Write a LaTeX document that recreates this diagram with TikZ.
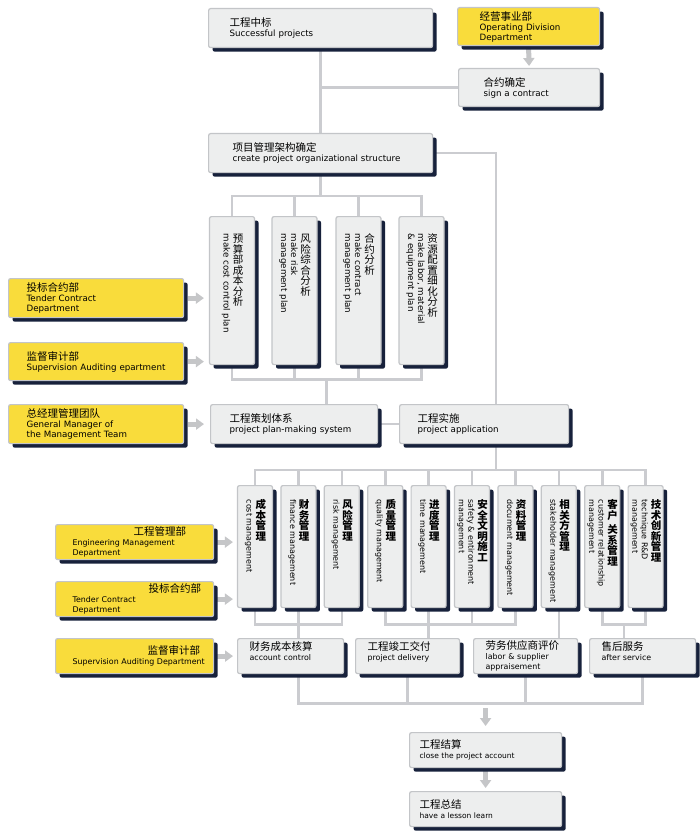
\documentclass[tikz,border=0pt]{standalone}
\usepackage{fontspec}
\usepackage{graphicx}
\setmainfont{DejaVu Sans}
\newfontfamily\cjk{Noto Sans CJK SC}
\usetikzlibrary{positioning,calc,shadows,backgrounds,arrows.meta}

\definecolor{boxfill}{HTML}{EDEEEE}
\definecolor{edge}{HTML}{C3C5C8}
\definecolor{yel}{HTML}{F9DC3B}
\definecolor{shd}{HTML}{17213B}
\definecolor{linkc}{HTML}{CBCCD0}
\definecolor{arrc}{HTML}{C5C6C8}

\newcommand\etop{\fontsize{8.7}{10}\selectfont}
\newcommand\elow{\fontsize{7.9}{10}\selectfont}
\newcommand\cn[1]{{\cjk\fontsize{10.5}{10}\selectfont #1}}
% Chinese set upright, one character per line
\newcommand\cvfont{}
\def\cvbar{|}
\makeatletter
\newcommand\cv[1]{\vtop{\cjk\cvfont\fontsize{10.5}{10.5}\selectfont
  \@tfor\ch:=#1\do{\ifx\ch\cvbar\vskip4pt\else\hbox to 11pt{\hss\ch\hss}\fi}}}
\makeatother
\newcommand\vlab[2]{\raisebox{9pt}{\rotatebox{-90}{\begin{tabular}{@{}l@{}}#1\end{tabular}}}\hspace{2pt}\cv{#2}}

\begin{document}
\begin{tikzpicture}[x=1pt, y=-1pt,
  box/.style={draw=edge, fill=boxfill, line width=1.2pt, rounded corners=2pt,
    drop shadow={shadow xshift=4pt, shadow yshift=-4pt, fill=shd, opacity=1},
    inner ysep=0pt, font=\etop},
  hbx/.style={box, anchor=north west, align=left},
  vbox/.style={box, anchor=north, inner xsep=0pt, minimum width=45pt, text height=26pt, text depth=122pt},
  wbox/.style={vbox, minimum width=35pt, text height=23pt, text depth=99pt,
    font={\fontsize{8}{9.5}\selectfont\def\cvfont{\bfseries}}},
  link/.style={draw=linkc, line width=2.6pt, line cap=rect},
  garrow/.style={draw=arrc, line width=5pt, -{Triangle[length=8pt, width=11pt]}}]
  \useasboundingbox (0,0) rectangle (700,840);

  % Tender won, contract, structure
  \node[hbx, minimum height=39pt, inner xsep=21pt, text width=182pt] (succ) at (208,8) {\cn{工程中标}\\Successful projects};
  \node[hbx, fill=yel, minimum height=38pt, inner xsep=22pt, text width=98pt] (opdiv) at (457,7) {\cn{经营事业部}\\Operating Division\\Department};
  \node[hbx, minimum height=38pt, inner xsep=25pt, text width=91pt] (contract) at (458,68) {\cn{合约确定}\\sign a contract};
  \node[hbx, minimum height=39pt, inner xsep=24pt, text width=176pt] (struct) at (208,133) {\cn{项目管理架构确定}\\create project organizational structure};

  % Analysis
  \node[vbox] (r1a) at (232,216) {\vlab{make cost control plan}{预算部成本分析}};
  \node[vbox] (r1b) at (294.5,216) {\vlab{make risk\\management plan}{风险综合分析}};
  \node[vbox] (r1c) at (358.5,216) {\vlab{make contract\\management plan}{合约分析}};
  \node[vbox] (r1d) at (421.5,216) {\vlab{make labor, material\\\& equipment plan}{资源配置细化分析}};

  % Departments (upper)
  \node[hbx, fill=yel, minimum height=39pt, inner xsep=18pt, text width=139pt] (tender1) at (8,278) {\cn{投标合约部}\\Tender Contract\\Department};
  \node[hbx, fill=yel, minimum height=38pt, inner xsep=18pt, text width=139pt] (audit1) at (8,342) {\cn{监督审计部}\\\mbox{Supervision Auditing epartment}};
  \node[hbx, fill=yel, minimum height=39pt, inner xsep=18pt, text width=139pt] (gm) at (8,404) {\cn{总经理管理团队}\\General Manager of\\the Management Team};

  % Plan and application
  \node[hbx, minimum height=39pt, inner xsep=19pt, text width=129pt] (plan) at (210,404) {\cn{工程策划体系}\\project plan-making system};
  \node[hbx, minimum height=39pt, inner xsep=18pt, text width=133pt] (apply) at (399,404) {\cn{工程实施}\\project application};

  % Management
  \node[wbox] (r2a) at (255,485) {\vlab{cost management}{成本管理}};
  \node[wbox] (r2b) at (298.4,485) {\vlab{finance management}{财务管理}};
  \node[wbox] (r2c) at (341.8,485) {\vlab{risk management}{风险管理}};
  \node[wbox] (r2d) at (385.2,485) {\vlab{quality management}{质量管理}};
  \node[wbox] (r2e) at (428.6,485) {\vlab{time management}{进度管理}};
  \node[wbox] (r2f) at (472,485) {\vlab{safety \& entironment\\management}{安全文明施工}};
  \node[wbox] (r2g) at (515.4,485) {\vlab{document management}{资料管理}};
  \node[wbox] (r2h) at (558.8,485) {\vlab{stakeholder management}{相关方管理}};
  \node[wbox] (r2i) at (602.2,485) {\vlab{customer relationship\\management}{客户|关系管理}};
  \node[wbox] (r2j) at (645.6,485) {\vlab{technique R\&D\\management}{技术创新管理}};

  % Departments (lower)
  \node[hbx, fill=yel, minimum height=35pt, inner xsep=17pt, text width=124pt, font=\elow] (eng) at (55,524) {\hspace*{61pt}\cn{工程管理部}\\Engineering Management\\Department};
  \node[hbx, fill=yel, minimum height=35pt, inner xsep=17pt, text width=124pt, font=\elow] (tender2) at (55,581) {\hspace*{76pt}\cn{投标合约部}\\Tender Contract\\Department};
  \node[hbx, fill=yel, minimum height=35pt, inner xsep=17pt, text width=124pt, font=\elow] (audit2) at (55,638) {\hspace*{75pt}\cn{监督审计部}\\\mbox{Supervision Auditing Department}};

  % Results
  \node[hbx, minimum height=35pt, inner xsep=12pt, text width=82pt, font=\elow] (acct) at (237,638) {\cn{财务成本核算}\\account control\\\mbox{}};
  \node[hbx, minimum height=35pt, inner xsep=12pt, text width=80pt, font=\elow] (deliv) at (355,638) {\cn{工程竣工交付}\\project delivery\\\mbox{}};
  \node[hbx, minimum height=35pt, inner xsep=12pt, text width=80pt, font=\elow] (labor) at (473,638) {\cn{劳务供应商评价}\\labor \& supplier\\appraisement};
  \node[hbx, minimum height=35pt, inner xsep=12pt, text width=82pt, font=\elow] (after) at (589,638) {\cn{售后服务}\\after service\\\mbox{}};

  % Closing
  \node[hbx, minimum height=35pt, inner xsep=10pt, text width=132pt, font=\fontsize{7.5}{10}\selectfont] (close) at (409,732) {\cn{工程结算}\\close the project account};
  \node[hbx, minimum height=35pt, inner xsep=10pt, text width=132pt, font=\fontsize{7.5}{10}\selectfont] (lesson) at (409,791) {\cn{工程总结}\\have a lesson learn};

  \begin{scope}[on background layer]
    \fill[white] (0,0) rectangle (700,840);
    % top part
    \draw[link] (succ) -- (struct);
    \draw[link] (contract.west) -- (contract.west -| succ.south);
    \draw[link] (struct.east) -| ([xshift=12pt]apply.north);
    \draw[garrow] ([yshift=-2pt]opdiv.south) -- ([yshift=2pt]contract.north);
    % analysis brackets
    \foreach \n in {r1a,r1b,r1c,r1d} {
      \draw[link] (\n.north) -- ++(0,-20);
      \draw[link] (\n.south) -- ++(0,14);
    }
    \coordinate (t1) at ([yshift=20pt]r1a.north);
    \draw[link] (t1) -- ([yshift=20pt]r1d.north);
    \draw[link] (struct) -- (struct.south |- t1);
    \draw[link] ([yshift=-14pt]r1a.south) -- ([yshift=-14pt]r1d.south);
    \coordinate (m1) at ($(r1a.south)!0.5!(r1d.south)$);
    \draw[link] ([yshift=-14pt]m1) -- (m1 |- plan.north);
    \draw[link] (plan) -- (apply);
    % departments to analysis
    \draw[garrow] ([xshift=4pt]tender1.east) -- ([xshift=-5pt]tender1.east -| r1a.west);
    \draw[garrow] ([xshift=4pt]audit1.east) -- ([xshift=-5pt]audit1.east -| r1a.west);
    \draw[garrow] ([xshift=4pt]gm.east) -- ([xshift=-6pt]gm.east -| plan.west);
    % management brackets
    \foreach \n in {r2a,r2b,r2c,r2d,r2e,r2f,r2g,r2h,r2i,r2j}
      \draw[link] (\n.north) -- ++(0,-15);
    \coordinate (t2) at ([yshift=15pt]r2a.north);
    \draw[link] (t2) -- ([yshift=15pt]r2j.north);
    \draw[link] ([xshift=12pt]apply.south) -- ([xshift=12pt]apply.south |- t2);
    \foreach \n in {r2a,r2b,r2c,r2d,r2e,r2f,r2g,r2i,r2j}
      \draw[link] (\n.south) -- ++(0,16);
    \draw[link] ([yshift=-16pt]r2a.south) -- ([yshift=-16pt]r2c.south);
    \draw[link] ([yshift=-16pt]r2d.south) -- ([yshift=-16pt]r2g.south);
    \draw[link] ([yshift=-16pt]r2i.south) -- ([yshift=-16pt]r2j.south);
    \draw[link] (r2b.south) -- (r2b.south |- acct.north);
    \draw[link] (r2e.south) -- (r2e.south |- deliv.north);
    \draw[link] (r2h.south) -- (r2h.south |- labor.north);
    \coordinate (mij) at ($(r2i.south)!0.5!(r2j.south)$);
    \draw[link] ([yshift=-16pt]mij) -- (mij |- after.north);
    \draw[garrow] ([xshift=3pt]eng.east) -- ([xshift=-4pt]eng.east -| r2a.west);
    \draw[garrow] ([xshift=3pt]tender2.east) -- ([xshift=-4pt]tender2.east -| r2a.west);
    \draw[garrow] ([xshift=3pt]audit2.east) -- ([xshift=-4pt]audit2.east -| acct.west);
    % results to closing
    \coordinate (ka) at (acct.south -| r2b.south);
    \draw[link] (ka) -- ++(0,29) -| (after.south);
    \draw[link] (deliv.south) -- ++(0,29);
    \draw[link] (labor.south) -- ++(0,29);
    \draw[garrow] ([yshift=24pt]close.north) -- ([yshift=6pt]close.north);
    \draw[garrow] ([yshift=-3pt]close.south) -- ([yshift=3pt]lesson.north);
  \end{scope}
\end{tikzpicture}
\end{document}
